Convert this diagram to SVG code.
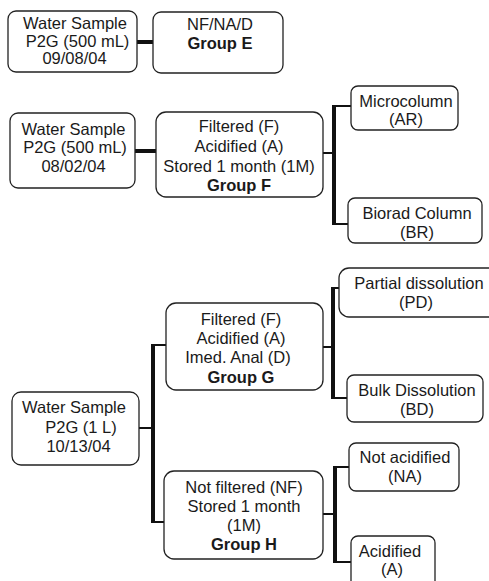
<svg xmlns="http://www.w3.org/2000/svg" width="489" height="581" viewBox="0 0 489 581">
<style>
.box{fill:#fff;stroke:#222;stroke-width:1.3}
text{font-family:"Liberation Sans",Arial,sans-serif;font-size:16.5px;fill:#1a1a1a;text-anchor:middle}
.b{font-weight:bold}
.thick{stroke:#111;stroke-width:4;fill:none}
.thin{stroke:#111;stroke-width:2;fill:none}
</style>
<rect width="489" height="581" fill="#fff"/>
<g id="connectors">
<line class="thick" x1="128" y1="42" x2="158" y2="42"/>
<line class="thick" x1="128" y1="151" x2="168" y2="151"/>
<line class="thin" x1="310" y1="153" x2="334" y2="153"/>
<line class="thick" x1="334" y1="105" x2="334" y2="225"/>
<polyline class="thin" points="353,106 334,106"/>
<polyline class="thin" points="353,224 334,224"/>
<line class="thin" x1="308" y1="347" x2="333" y2="347"/>
<line class="thick" x1="333" y1="287" x2="333" y2="399"/>
<line class="thin" x1="333" y1="288" x2="352" y2="288"/>
<line class="thin" x1="333" y1="398" x2="348" y2="398"/>
<line class="thin" x1="128" y1="428" x2="153" y2="428"/>
<line class="thick" x1="153" y1="344" x2="153" y2="523"/>
<line class="thin" x1="153" y1="345" x2="172" y2="345"/>
<line class="thin" x1="153" y1="522" x2="172" y2="522"/>
<line class="thin" x1="310" y1="514" x2="335" y2="514"/>
<line class="thick" x1="335" y1="466" x2="335" y2="563"/>
<line class="thin" x1="335" y1="467" x2="354" y2="467"/>
<line class="thin" x1="335" y1="562" x2="353" y2="562"/>
</g>
<g id="sample1">
<rect class="box" x="8" y="11" width="129" height="61" rx="8"/>
<text x="75" y="29">Water Sample</text>
<text x="77.5" y="47">P2G (500 mL)</text>
<text x="74.5" y="64">09/08/04</text>
</g>
<g id="groupE">
<rect class="box" x="153" y="12" width="130" height="61" rx="8"/>
<text x="220" y="30">NF/NA/D</text>
<text x="220" y="49" class="b">Group E</text>
</g>
<g id="sample2">
<rect class="box" x="10" y="113" width="125" height="75" rx="8"/>
<text x="73.5" y="135">Water Sample</text>
<text x="75" y="153">P2G (500 mL)</text>
<text x="73.5" y="172">08/02/04</text>
</g>
<g id="groupF">
<rect class="box" x="156" y="112" width="167" height="85" rx="10"/>
<text x="239" y="132">Filtered (F)</text>
<text x="239" y="152">Acidified (A)</text>
<text x="239" y="172">Stored 1 month (1M)</text>
<text x="239" y="191" class="b">Group F</text>
</g>
<g id="microcolumn">
<rect class="box" x="351" y="86" width="107" height="44" rx="7"/>
<text x="406" y="107">Microcolumn</text>
<text x="406" y="125">(AR)</text>
</g>
<g id="biorad">
<rect class="box" x="348" y="198" width="134" height="45" rx="7"/>
<text x="417" y="219">Biorad Column</text>
<text x="417" y="238">(BR)</text>
</g>
<g id="groupG">
<rect class="box" x="166" y="303" width="157" height="87" rx="10"/>
<text x="241" y="325">Filtered (F)</text>
<text x="241" y="344">Acidified (A)</text>
<text x="238" y="363">Imed. Anal (D)</text>
<text x="241" y="383" class="b">Group G</text>
</g>
<g id="partial">
<rect class="box" x="339" y="268" width="160" height="49" rx="10"/>
<text x="419" y="289">Partial dissolution</text>
<text x="416" y="308">(PD)</text>
</g>
<g id="bulk">
<rect class="box" x="347" y="375" width="136" height="47" rx="7"/>
<text x="417" y="396">Bulk Dissolution</text>
<text x="417" y="415">(BD)</text>
</g>
<g id="sample3">
<rect class="box" x="12" y="392" width="127" height="73" rx="9"/>
<text x="74" y="413">Water Sample</text>
<text x="81" y="433">P2G (1 L)</text>
<text x="78.5" y="452">10/13/04</text>
</g>
<g id="groupH">
<rect class="box" x="164" y="471" width="159" height="88" rx="10"/>
<text x="244" y="493">Not filtered (NF)</text>
<text x="244" y="512">Stored 1 month</text>
<text x="244" y="531">(1M)</text>
<text x="244" y="550" class="b">Group H</text>
</g>
<g id="notacidified">
<rect class="box" x="349" y="443" width="110" height="48" rx="7"/>
<text x="405" y="463">Not acidified</text>
<text x="405" y="482">(NA)</text>
</g>
<g id="acidified">
<rect class="box" x="351" y="536" width="84" height="55" rx="7"/>
<text x="390" y="557">Acidified</text>
<text x="392" y="575">(A)</text>
</g>
</svg>
